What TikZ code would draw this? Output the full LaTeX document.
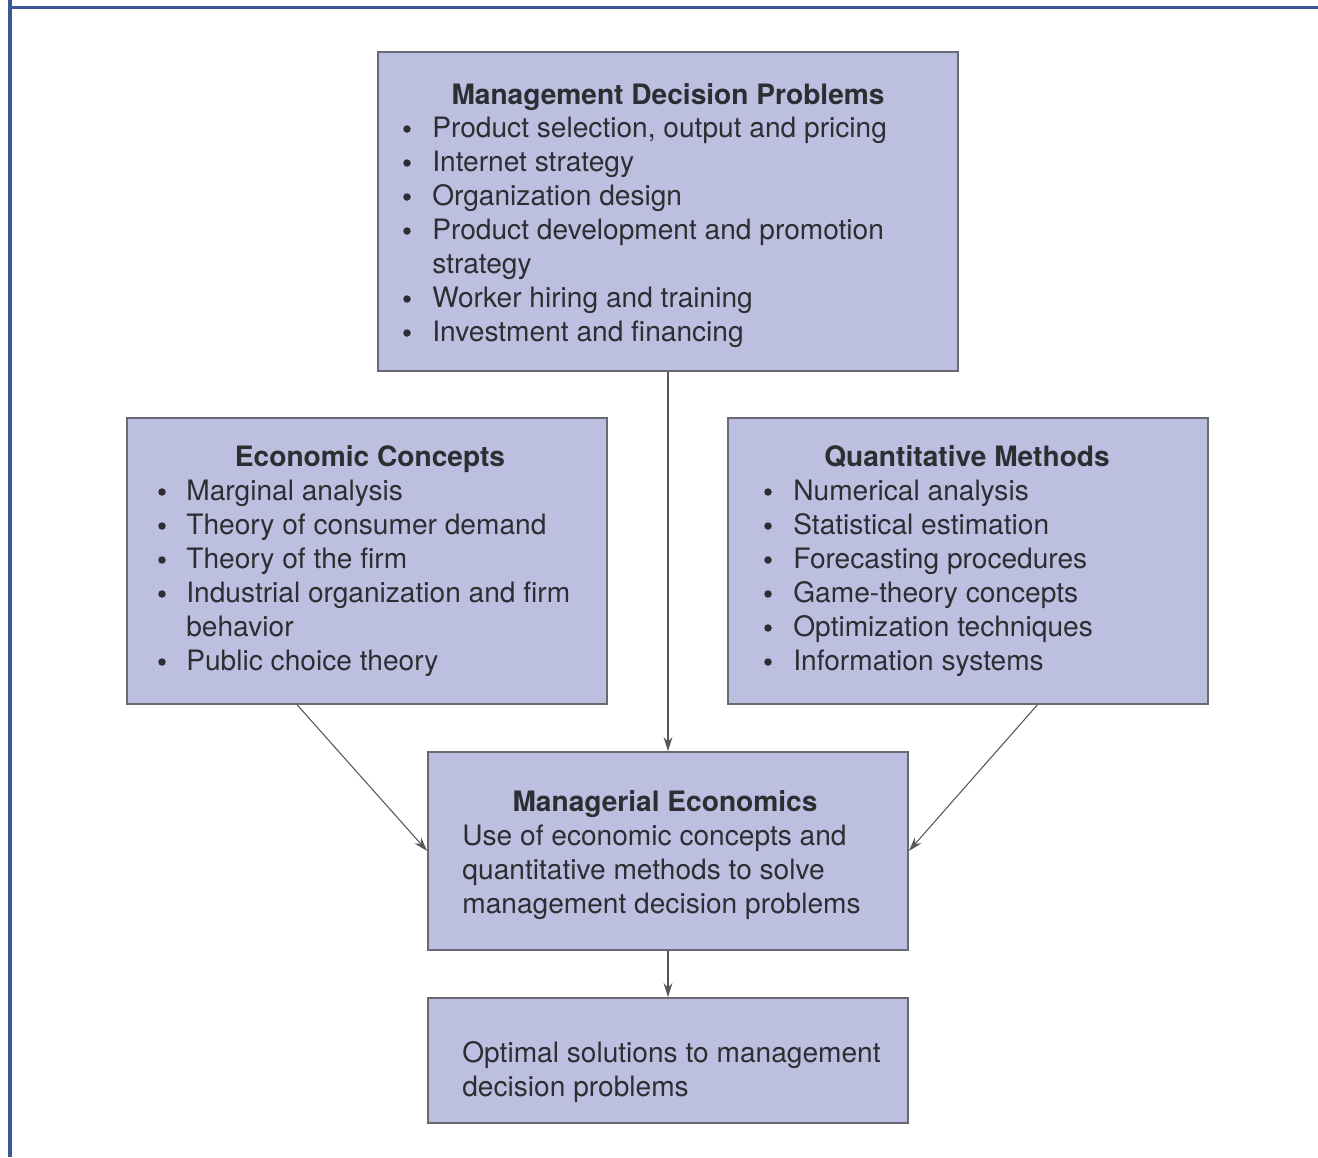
\documentclass[tikz,border=0pt]{standalone}
\usepackage{fontspec}
\setmainfont{TeX Gyre Heros}
\usetikzlibrary{arrows.meta, calc}
\definecolor{rimblue}{RGB}{58,88,152}
\definecolor{boxfill}{RGB}{189,191,225}
\definecolor{boxline}{RGB}{105,105,115}
\definecolor{inkgray}{RGB}{45,45,50}
\definecolor{linkgray}{RGB}{85,85,90}
\tikzstyle{box}=[draw=boxline,fill=boxfill,line width=1pt,inner sep=0pt]
\tikzstyle{txt}=[anchor=base west,inner sep=0pt,text=inkgray,font=\fontsize{16}{19}\selectfont]
\tikzstyle{head}=[txt,anchor=base,font=\fontsize{16}{19}\selectfont\bfseries]
\tikzstyle{dot}=[circle,fill=inkgray,inner sep=0pt,minimum size=0.15cm]
\tikzstyle{link}=[-{Stealth[length=8pt,width=5pt]},line width=0.6pt,linkgray]
\tikzstyle{rim}=[rimblue,line width=1.8pt]
\tikzstyle{px}=[x=0.02cm,y=-0.02cm]

\begin{document}
\begin{tikzpicture}[px]
                    \useasboundingbox (0,0) rectangle (1318,1157);
                    \draw[rim] (10,0) -- (10,1157);
                    \draw[rim] (10,7.5) -- (1318,7.5);
                    % boxes
                    \node[box,minimum width=11.6cm,minimum height=6.38cm] (mdp) at (668,211.5) {};
                    \node[box,minimum width=9.6cm,minimum height=5.72cm] (ec) at (367,561) {};
                    \node[box,minimum width=9.6cm,minimum height=5.72cm] (qm) at (968,561) {};
                    \node[box,minimum width=9.6cm,minimum height=3.96cm] (me) at (668,851) {};
                    \node[box,minimum width=9.6cm,minimum height=2.5cm] (os) at (668,1060.5) {};
                    % management decision problems
                    \node[head] (mdp-h) at (668,104) {Management Decision Problems};
                    \foreach \t [count=\k from 0] in {{Product selection, output and pricing}, Internet strategy, Organization design, Product development and promotion, strategy, Worker hiring and training, Investment and financing}
                        {\node[txt] (mdp-\k) at (432,{137+34*\k}) {\t};}
                    \foreach \k in {0,1,2,3,5,6}
                        {\node[dot] (mdp-b\k) at (407,{129+34*\k}) {};}
                    % economic concepts
                    \node[head] (ec-h) at (370,466) {Economic Concepts};
                    \foreach \t [count=\k from 0] in {Marginal analysis, Theory of consumer demand, Theory of the firm, Industrial organization and firm, behavior, Public choice theory}
                        {\node[txt] (ec-\k) at (186,{500+34*\k}) {\t};}
                    \foreach \k in {0,1,2,3,5}
                        {\node[dot] (ec-b\k) at (162,{492+34*\k}) {};}
                    % quantitative methods
                    \node[head] (qm-h) at (967,466) {Quantitative Methods};
                    \foreach \t [count=\k from 0] in {Numerical analysis, Statistical estimation, Forecasting procedures, Game-theory concepts, Optimization techniques, Information systems}
                        {\node[txt] (qm-\k) at (793,{500+34*\k}) {\t};
                         \node[dot] (qm-b\k) at (768,{492+34*\k}) {};}
                    % managerial economics
                    \node[head] (me-h) at (665,811) {Managerial Economics};
                    \foreach \t [count=\k from 0] in {Use of economic concepts and, quantitative methods to solve, management decision problems}
                        {\node[txt] (me-\k) at (462,{845+34*\k}) {\t};}
                    % optimal solutions
                    \foreach \t [count=\k from 0] in {Optimal solutions to management, decision problems}
                        {\node[txt] (os-\k) at (462,{1062+34*\k}) {\t};}
                    % connectors
                    \draw[link] (mdp) -- (me);
                    \draw[link] ($(ec.south west)!.355!(ec.south east)$) -- (me.west);
                    \draw[link] ($(qm.south west)!.644!(qm.south east)$) -- (me.east);
                    \draw[link] (me) -- (os);
                \end{tikzpicture}
\end{document}
